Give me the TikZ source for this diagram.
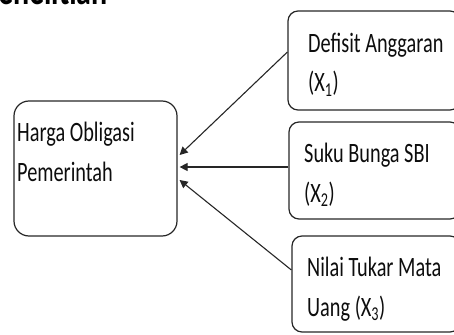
\documentclass[tikz,border=0pt]{standalone}
\usepackage{fontspec}
\setmainfont{Carlito}
\usetikzlibrary{arrows.meta}

% Calibri-like text, drawn a little taller than wide
\newcommand{\tallsc}[1]{\scalebox{1}[1.38]{#1}}

\begin{document}
\begin{tikzpicture}[x=1pt,y=-1pt,
  box/.style={draw=black!85, line width=1.2pt, rounded corners=#1, inner sep=0pt},
  box/.default=10pt,
  txt/.style={anchor=base west, inner sep=0pt, text=black!95,
              font=\fontsize{20.3}{22}\selectfont},
  link/.style={draw=black!85, line width=1.1pt,
               -{Triangle[length=8pt,width=8pt]}}]
  \useasboundingbox (0,0) rectangle (454,334);
  \clip (0,0) rectangle (454,334);

  % heading, running off the top edge
  \node[anchor=base east, inner sep=0pt, font=\fontsize{30}{32}\bfseries\selectfont]
    (head) at (108,4.5) {\tallsc{enelitian}};

  % dependent variable
  \node[box=15pt, minimum width=163pt, minimum height=135pt] (y) at (95.5,168.5) {};
  \node[txt] (y1) at (17,141) {\tallsc{Harga Obligasi}};
  \node[txt] (y2) at (17,181) {\tallsc{Pemerintah}};

  % independent variables
  \node[box, minimum width=172pt, minimum height=99pt] (b1) at (374,60.5) {};
  \node[txt] (b1a) at (308,53) {\tallsc{Defisit Anggaran}};
  \node[txt] (b1b) at (308,92) {\tallsc{(X\textsubscript{1})}};

  \node[box, minimum width=171pt, minimum height=97pt] (b2) at (374.5,170.5) {};
  \node[txt] (b2a) at (304,162.5) {\tallsc{Suku Bunga SBI}};
  \node[txt] (b2b) at (304,202) {\tallsc{(X\textsubscript{2})}};

  \node[box, minimum width=168pt, minimum height=96pt] (b3) at (376,284) {};
  \node[txt] (b3a) at (307,276.5) {\tallsc{Nilai Tukar Mata}};
  \node[txt] (b3b) at (307,316.5) {\tallsc{Uang (X\textsubscript{3})}};

  % arrow tips on the right side of the left box
  \coordinate (t1) at ([yshift=13.5pt]y.east);
  \coordinate (t2) at ([yshift=1.5pt]y.east);
  \coordinate (t3) at ([yshift=-11.5pt]y.east);

  \draw[link] ([yshift=8.5pt]b1.west) -- ([xshift=2pt]t1);
  \draw[link] ([yshift=3.5pt]b2.west) -- ([xshift=2pt]t2);
  \draw[link] ([yshift=14pt]b3.west) -- ([xshift=2pt]t3);
\end{tikzpicture}
\end{document}
